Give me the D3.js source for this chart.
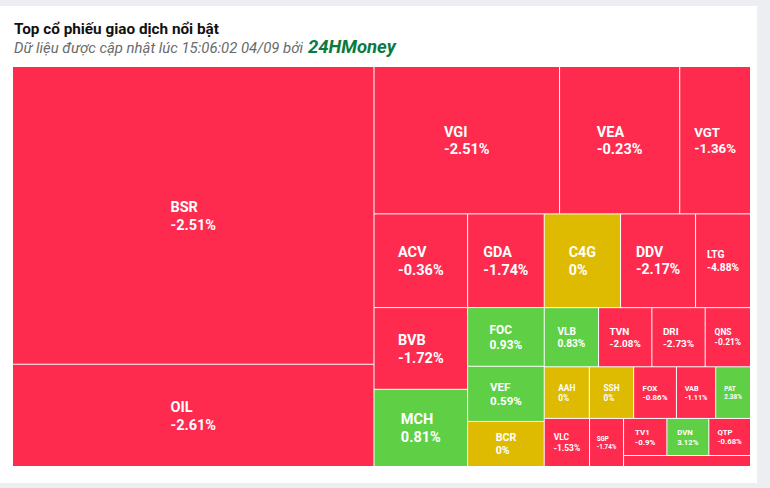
<!DOCTYPE html>
<html>
<head>
<meta charset="utf-8">
<script src="https://cdn.jsdelivr.net/npm/d3@7"></script>
<style>
  html, body { margin: 0; padding: 0; background: #eceef2; }
  svg { display: block; }
</style>
</head>
<body>
<svg id="chart" width="770" height="488"></svg>
<script>
// ---- data ----
const codes   = ["BSR","OIL","VGI","VEA","VGT","ACV","BVB","MCH","GDA","FOC","VEF","BCR","C4G","DDV","LTG","VLB","TVN","DRI","QNS","AAH","SSH","FOX","VAB","PAT","VLC","SGP","TV1","DVN","QTP","KHAC"];
const changes = [-2.51,-2.61,-2.51,-0.23,-1.36,-0.36,-1.72,0.81,-1.74,0.93,0.59,0,0,-2.17,-4.88,0.83,-2.08,-2.73,-0.21,0,0,-0.86,-1.11,2.38,-1.53,-1.74,-0.9,3.12,-0.68,-1.0];
const sizes   = [1072.2,368.2,272.4,176.4,103.9,87.4,76.2,72.0,71.5,44.8,42.1,34.4,71.3,70.1,51.3,32.0,31.4,31.4,26.7,23.2,22.8,22.0,20.2,17.9,21.7,16.3,16.0,15.5,15.4,13.9];
const changeLabels = ["-2.51%","-2.61%","-2.51%","-0.23%","-1.36%","-0.36%","-1.72%","0.81%","-1.74%","0.93%","0.59%","0%","0%","-2.17%","-4.88%","0.83%","-2.08%","-2.73%","-0.21%","0%","0%","-0.86%","-1.11%","2.38%","-1.53%","-1.74%","-0.9%","3.12%","-0.68%",""];
// grouping of the treemap strips (order in which rows/columns are cut)
const strips = [
  {dir: "col", items: ["BSR","OIL"]},
  {dir: "row", items: ["VGI","VEA","VGT"]},
  {dir: "col", items: ["ACV","BVB","MCH"]},
  {dir: "col", items: ["GDA","FOC","VEF","BCR"]},
  {dir: "row", items: ["C4G","DDV","LTG"]},
  {dir: "row", items: ["VLB","TVN","DRI","QNS"]},
  {dir: "row", items: ["AAH","SSH","FOX","VAB","PAT"]},
  {dir: "col", items: ["VLC"]},
  {dir: "col", items: ["SGP"]},
  {dir: "row", items: ["TV1","DVN","QTP"]},
  {dir: "row", items: ["KHAC"]}
];
const title = "Top cổ phiếu giao dịch nổi bật";
const subtitle = "Dữ liệu được cập nhật lúc 15:06:02 04/09 bởi";
const brand = "24HMoney";

// ---- drawing ----
const svg = d3.select("#chart");
svg.append("rect").attr("x", 0).attr("y", 6).attr("width", 757).attr("height", 477).attr("fill", "#ffffff");

svg.append("text").attr("x", 14).attr("y", 34)
  .attr("font-family", "Roboto, 'Noto Sans', sans-serif").attr("font-weight", 700)
  .attr("font-size", 15.3).attr("fill", "#111").text(title);

const sub = svg.append("text").attr("x", 14).attr("y", 53)
  .attr("font-family", "Roboto, 'Noto Sans', sans-serif").attr("font-style", "italic")
  .attr("font-size", 14.9).attr("fill", "#6b6b6b");
sub.append("tspan").text(subtitle);
sub.append("tspan").attr("dx", 5).attr("font-weight", 700).attr("font-size", 18.5).attr("fill", "#0b7a3c").text(brand);

const X0 = 13, Y0 = 67, W = 737, H = 399;

const data = {children: codes.map((c, i) => ({code: c, change: changes[i], label: changeLabels[i], size: sizes[i]}))};

function stripTile(parent, x0, y0, x1, y1) {
  let remaining = parent.value;
  const byCode = new Map(parent.children.map(c => [c.data.code, c]));
  for (const s of strips) {
    const kids = s.items.map(c => byCode.get(c));
    const v = d3.sum(kids, k => k.value);
    const row = {children: kids, value: v};
    if (s.dir === "row") {
      const yy = y0 + (y1 - y0) * v / remaining;
      d3.treemapDice(row, x0, y0, x1, yy); y0 = yy;
    } else {
      const xx = x0 + (x1 - x0) * v / remaining;
      d3.treemapSlice(row, x0, y0, xx, y1); x0 = xx;
    }
    remaining -= v;
  }
}

const root = d3.hierarchy(data).sum(d => d.size || 0);
d3.treemap().size([W, H]).paddingInner(1).tile(stripTile)(root);

const color = ch => ch > 0 ? "#5fcf45" : (ch < 0 ? "#fe2b4f" : "#debb00");

const g = svg.append("g").attr("transform", `translate(${X0},${Y0})`);
const leaf = g.selectAll("g.leaf").data(root.leaves()).join("g").attr("class", "leaf");

leaf.append("rect")
  .attr("x", d => d.x0).attr("y", d => d.y0)
  .attr("width", d => Math.max(0, d.x1 - d.x0)).attr("height", d => Math.max(0, d.y1 - d.y0))
  .attr("fill", d => color(d.data.change));

leaf.each(function(d) {
  const w = d.x1 - d.x0, h = d.y1 - d.y0;
  if (h < 20 || !d.data.label) return;
  const fs = Math.min(14.5, 2 + 0.15 * Math.sqrt(w * h), 0.19 * w);
  const cx = (d.x0 + d.x1) / 2, cy = (d.y0 + d.y1) / 2;
  const t = d3.select(this).append("text")
    .attr("font-family", "Roboto, 'Noto Sans', sans-serif").attr("font-weight", 700)
    .attr("font-size", fs).attr("fill", "#ffffff");
  const l1 = t.append("tspan").text(d.data.code);
  const l2 = t.append("tspan").text(d.data.label);
  const mw = Math.max(l1.node().getComputedTextLength(), l2.node().getComputedTextLength());
  const left = cx - mw / 2;
  const b1 = cy - 0.245 * fs;
  l1.attr("x", left).attr("y", b1);
  l2.attr("x", left).attr("y", b1 + 1.22 * fs);
});
</script>
</body>
</html>
